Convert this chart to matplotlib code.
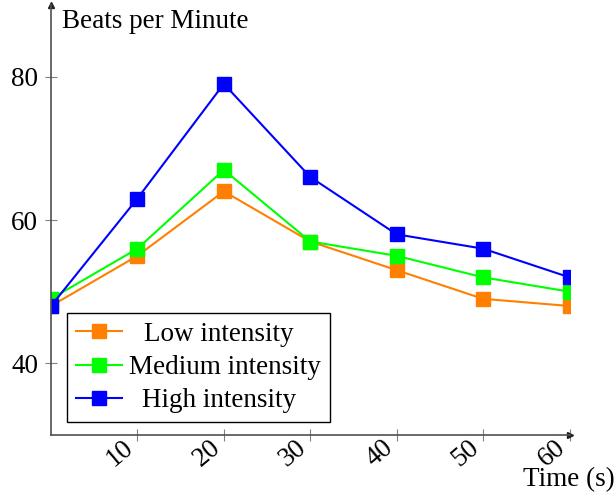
import matplotlib
matplotlib.use("Agg")
import matplotlib.pyplot as plt
from matplotlib.transforms import ScaledTranslation

# Data
time_s = [0, 10, 20, 30, 40, 50, 60]
low = [48, 55, 64, 57, 53, 49, 48]
medium = [49, 56, 67, 57, 55, 52, 50]
high = [48, 63, 79, 66, 58, 56, 52]
x_ticks = [10, 20, 30, 40, 50, 60]
y_ticks = [40, 60, 80]

plt.rcParams['font.family'] = ['Liberation Serif', 'DejaVu Serif']
FS = 19.5
DPI = 100

fig = plt.figure(figsize=(6.16, 4.93), dpi=DPI)
ax = fig.add_axes([51/616, 58/493, 518.5/616, 430/493])

ax.plot(time_s, low, '-s', color=(1, 0.5, 0), lw=1.5, ms=9.5, label='Low intensity')
ax.plot(time_s, medium, '-s', color=(0, 1, 0), lw=1.5, ms=9.5, label='Medium intensity')
ax.plot(time_s, high, '-s', color=(0, 0, 1), lw=1.5, ms=9.5, label='High intensity')

ax.set_xlim(0, 60)
ax.set_ylim(30, 90)

# axis lines with arrows (pgfplots "axis lines=left" look)
for s in ['top', 'right']:
    ax.spines[s].set_visible(False)
for s in ['left', 'bottom']:
    ax.spines[s].set_color('#505050')
    ax.spines[s].set_linewidth(1.2)
ax.plot(1, 0, '>', color='#202020', ms=5, transform=ax.transAxes, clip_on=False)
ax.plot(0, 1, '^', color='#202020', ms=5, transform=ax.transAxes, clip_on=False)

ax.set_xticks(x_ticks)
ax.set_yticks(y_ticks)
ax.tick_params(direction='inout', length=8.5, width=0.8, color='#808080', labelsize=FS)
ax.tick_params(axis='y', pad=5)
ax.tick_params(axis='x', pad=1)
ax.set_xticklabels([str(t) for t in x_ticks], rotation=40, ha='right', va='top',
                   rotation_mode='anchor')
# nudge rotated labels so they sit left of their ticks
shift = ScaledTranslation(-15 / DPI, 7 / DPI, fig.dpi_scale_trans)
for lbl in ax.get_xticklabels():
    lbl.set_transform(lbl.get_transform() + shift)

ax.text(0.021, 0.99, 'Beats per Minute', transform=ax.transAxes, fontsize=FS,
        ha='left', va='top')
fig.text(0.998, 0.001, 'Time (s)', fontsize=FS, ha='right', va='bottom')

leg = ax.legend(loc='lower left', bbox_to_anchor=(0.031, 0.03), fontsize=FS,
                fancybox=False, edgecolor='black', framealpha=1,
                handlelength=1.7, borderpad=0.33, labelspacing=0.3,
                handletextpad=0.25, borderaxespad=0)
leg.get_frame().set_linewidth(1.0)

# centre the legend labels
renderer = fig.canvas.get_renderer()
widths = [t.get_window_extent(renderer).width for t in leg.get_texts()]
w = max(widths)
for t, wi in zip(leg.get_texts(), widths):
    t.set_position(((w - wi) / 2 * 72 / DPI, 0))

fig.savefig('out.png', dpi=DPI)
